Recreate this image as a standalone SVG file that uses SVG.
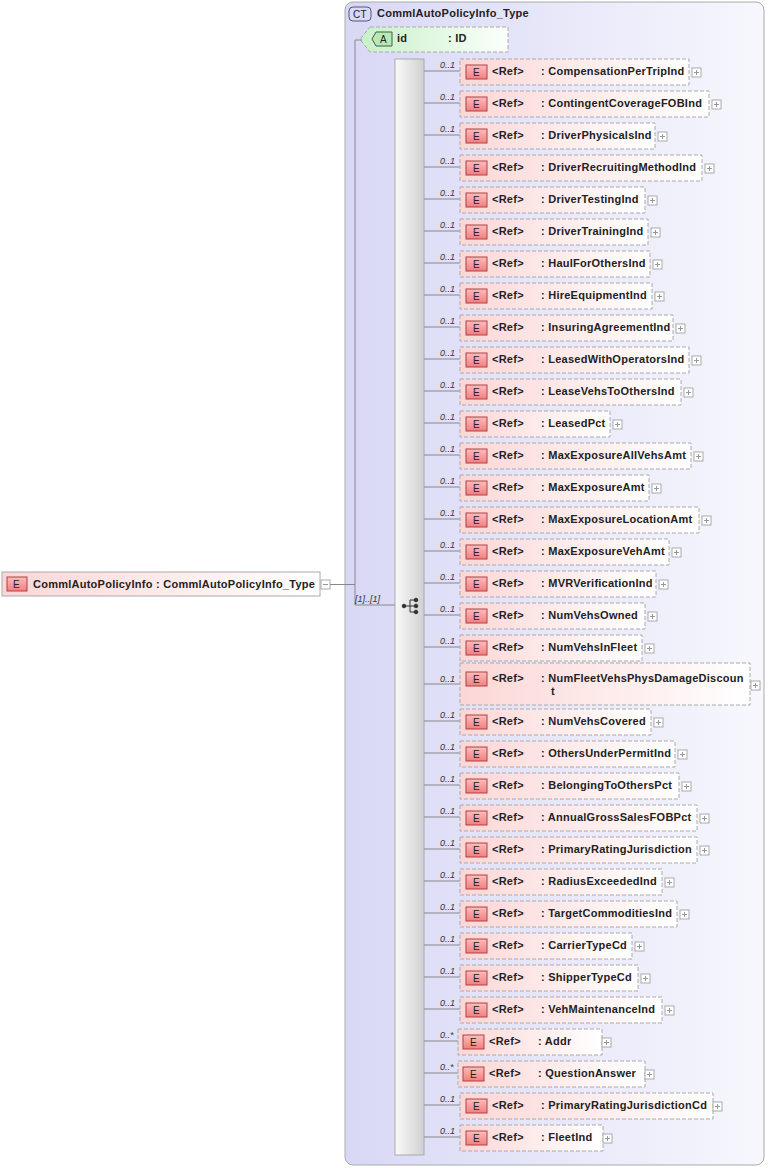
<svg xmlns="http://www.w3.org/2000/svg" width="768" height="1168" viewBox="0 0 768 1168">
<style>
text{font-family:"Liberation Sans",Arial,sans-serif;font-size:11px;font-weight:bold;fill:#222;letter-spacing:0.25px}
.m{font-weight:normal;font-style:italic;font-size:9px;fill:#333;letter-spacing:0}
.eb{fill:url(#eg);stroke:#aaa;stroke-dasharray:4,2}
.ic{fill:url(#ig);stroke:#b04040}
.it{font-weight:normal;font-size:10px;fill:#222}
.c{stroke:#888;fill:none}
.p{fill:#fff;stroke:#aaa}
</style>
<defs>
<linearGradient id="bg" x1="0" y1="0" x2="1" y2="0"><stop offset="0" stop-color="#d8d8f6"/><stop offset="1" stop-color="#f7f7fd"/></linearGradient>
<linearGradient id="eg" x1="0" y1="0" x2="1" y2="0"><stop offset="0" stop-color="#fcd6d6"/><stop offset="1" stop-color="#fff"/></linearGradient>
<linearGradient id="ag" x1="0" y1="0" x2="1" y2="0"><stop offset="0" stop-color="#c8f0c8"/><stop offset="1" stop-color="#fbfffb"/></linearGradient>
<linearGradient id="ig" x1="0" y1="0" x2="0" y2="1"><stop offset="0" stop-color="#fbb"/><stop offset="1" stop-color="#f08080"/></linearGradient>
<linearGradient id="sg" x1="0" y1="0" x2="1" y2="0"><stop offset="0" stop-color="#fafafa"/><stop offset="1" stop-color="#d0d0d0"/></linearGradient>
<g id="plus"><rect class="p" x="0" y="0" width="9" height="9"/><path d="M2 4.5h5M4.5 2v5" stroke="#999"/></g>
</defs>
<g id="ct">
<rect x="345" y="2" width="419" height="1163" rx="8" fill="url(#bg)" stroke="#aaa"/>
<rect x="349" y="7" width="22" height="14" rx="4" fill="#d8d8f8" stroke="#557"/>
<text x="353" y="18" class="it">CT</text>
<text x="377" y="17">CommlAutoPolicyInfo_Type</text>
</g>
<g id="root">
<rect x="2" y="572" width="318" height="24" fill="url(#eg)" stroke="#aaa"/>
<rect class="ic" x="7" y="577" width="20" height="14"/><text class="it" x="13" y="588">E</text>
<text x="33" y="588">CommlAutoPolicyInfo</text><text x="156" y="588">: CommlAutoPolicyInfo_Type</text>
<rect class="p" x="321" y="580" width="9" height="9"/><path d="M323 584.5h5" stroke="#999"/>
</g>
<g id="attr-id">
<path d="M370 27H508V52H370L360 39.5Z" fill="url(#ag)" stroke="#aaa" stroke-dasharray="4,2"/>
<path d="M376 32H392V46H376L372 39Z" fill="#b8e8b8" stroke="#406040"/>
<text class="it" x="380" y="43">A</text>
<text x="397" y="42">id</text><text x="448" y="42">: ID</text>
</g>
<g id="seq">
<rect x="395" y="59" width="29" height="1096" fill="url(#sg)" stroke="#aaa"/>
<g fill="#333" stroke="#333"><circle cx="404" cy="606" r="1.8"/><path d="M404 606h6M410 600v12M410 600h5M410 606h5M410 612h5" fill="none"/><circle cx="416" cy="600" r="1.8"/><circle cx="416" cy="606" r="1.8"/><circle cx="416" cy="612" r="1.8"/></g>
</g>
<g id="connectors">
<path class="c" d="M330 584.5H355M355 40V605M355 40H362M355 605H395"/>
<text class="m" x="355" y="602">[1]..[1]</text>
<path class="c" d="M424 71H460M424 103H460M424 135H460M424 167H460M424 199H460M424 231H460M424 263H460M424 295H460M424 327H460M424 359H460M424 391H460M424 423H460M424 455H460M424 487H460M424 519H460M424 551H460M424 583H460M424 615H460M424 647H460M424 684H460M424 721H460M424 753H460M424 785H460M424 817H460M424 849H460M424 881H460M424 913H460M424 945H460M424 977H460M424 1009H460M424 1041H458M424 1073H458M424 1105H460M424 1137H460"/>
</g>
<g id="e1"><rect class="eb" x="460" y="59" width="229" height="26"/><rect class="ic" x="466" y="65" width="21" height="14"/><text class="it" x="473" y="76">E</text><text x="492" y="75">&lt;Ref&gt;</text><text x="541" y="75">: CompensationPerTripInd</text><use href="#plus" x="692" y="68"/><text class="m" x="440" y="68">0..1</text></g>
<g id="e2"><rect class="eb" x="460" y="91" width="249" height="26"/><rect class="ic" x="466" y="97" width="21" height="14"/><text class="it" x="473" y="108">E</text><text x="492" y="107">&lt;Ref&gt;</text><text x="541" y="107">: ContingentCoverageFOBInd</text><use href="#plus" x="712" y="100"/><text class="m" x="440" y="100">0..1</text></g>
<g id="e3"><rect class="eb" x="460" y="123" width="195" height="26"/><rect class="ic" x="466" y="129" width="21" height="14"/><text class="it" x="473" y="140">E</text><text x="492" y="139">&lt;Ref&gt;</text><text x="541" y="139">: DriverPhysicalsInd</text><use href="#plus" x="658" y="132"/><text class="m" x="440" y="132">0..1</text></g>
<g id="e4"><rect class="eb" x="460" y="155" width="242" height="26"/><rect class="ic" x="466" y="161" width="21" height="14"/><text class="it" x="473" y="172">E</text><text x="492" y="171">&lt;Ref&gt;</text><text x="541" y="171">: DriverRecruitingMethodInd</text><use href="#plus" x="705" y="164"/><text class="m" x="440" y="164">0..1</text></g>
<g id="e5"><rect class="eb" x="460" y="187" width="185" height="26"/><rect class="ic" x="466" y="193" width="21" height="14"/><text class="it" x="473" y="204">E</text><text x="492" y="203">&lt;Ref&gt;</text><text x="541" y="203">: DriverTestingInd</text><use href="#plus" x="648" y="196"/><text class="m" x="440" y="196">0..1</text></g>
<g id="e6"><rect class="eb" x="460" y="219" width="188" height="26"/><rect class="ic" x="466" y="225" width="21" height="14"/><text class="it" x="473" y="236">E</text><text x="492" y="235">&lt;Ref&gt;</text><text x="541" y="235">: DriverTrainingInd</text><use href="#plus" x="651" y="228"/><text class="m" x="440" y="228">0..1</text></g>
<g id="e7"><rect class="eb" x="460" y="251" width="190" height="26"/><rect class="ic" x="466" y="257" width="21" height="14"/><text class="it" x="473" y="268">E</text><text x="492" y="267">&lt;Ref&gt;</text><text x="541" y="267">: HaulForOthersInd</text><use href="#plus" x="653" y="260"/><text class="m" x="440" y="260">0..1</text></g>
<g id="e8"><rect class="eb" x="460" y="283" width="192" height="26"/><rect class="ic" x="466" y="289" width="21" height="14"/><text class="it" x="473" y="300">E</text><text x="492" y="299">&lt;Ref&gt;</text><text x="541" y="299">: HireEquipmentInd</text><use href="#plus" x="655" y="292"/><text class="m" x="440" y="292">0..1</text></g>
<g id="e9"><rect class="eb" x="460" y="315" width="213" height="26"/><rect class="ic" x="466" y="321" width="21" height="14"/><text class="it" x="473" y="332">E</text><text x="492" y="331">&lt;Ref&gt;</text><text x="541" y="331">: InsuringAgreementInd</text><use href="#plus" x="676" y="324"/><text class="m" x="440" y="324">0..1</text></g>
<g id="e10"><rect class="eb" x="460" y="347" width="229" height="26"/><rect class="ic" x="466" y="353" width="21" height="14"/><text class="it" x="473" y="364">E</text><text x="492" y="363">&lt;Ref&gt;</text><text x="541" y="363">: LeasedWithOperatorsInd</text><use href="#plus" x="692" y="356"/><text class="m" x="440" y="356">0..1</text></g>
<g id="e11"><rect class="eb" x="460" y="379" width="221" height="26"/><rect class="ic" x="466" y="385" width="21" height="14"/><text class="it" x="473" y="396">E</text><text x="492" y="395">&lt;Ref&gt;</text><text x="541" y="395">: LeaseVehsToOthersInd</text><use href="#plus" x="684" y="388"/><text class="m" x="440" y="388">0..1</text></g>
<g id="e12"><rect class="eb" x="460" y="411" width="150" height="26"/><rect class="ic" x="466" y="417" width="21" height="14"/><text class="it" x="473" y="428">E</text><text x="492" y="427">&lt;Ref&gt;</text><text x="541" y="427">: LeasedPct</text><use href="#plus" x="613" y="420"/><text class="m" x="440" y="420">0..1</text></g>
<g id="e13"><rect class="eb" x="460" y="443" width="231" height="26"/><rect class="ic" x="466" y="449" width="21" height="14"/><text class="it" x="473" y="460">E</text><text x="492" y="459">&lt;Ref&gt;</text><text x="541" y="459">: MaxExposureAllVehsAmt</text><use href="#plus" x="694" y="452"/><text class="m" x="440" y="452">0..1</text></g>
<g id="e14"><rect class="eb" x="460" y="475" width="189" height="26"/><rect class="ic" x="466" y="481" width="21" height="14"/><text class="it" x="473" y="492">E</text><text x="492" y="491">&lt;Ref&gt;</text><text x="541" y="491">: MaxExposureAmt</text><use href="#plus" x="652" y="484"/><text class="m" x="440" y="484">0..1</text></g>
<g id="e15"><rect class="eb" x="460" y="507" width="239" height="26"/><rect class="ic" x="466" y="513" width="21" height="14"/><text class="it" x="473" y="524">E</text><text x="492" y="523">&lt;Ref&gt;</text><text x="541" y="523">: MaxExposureLocationAmt</text><use href="#plus" x="702" y="516"/><text class="m" x="440" y="516">0..1</text></g>
<g id="e16"><rect class="eb" x="460" y="539" width="209" height="26"/><rect class="ic" x="466" y="545" width="21" height="14"/><text class="it" x="473" y="556">E</text><text x="492" y="555">&lt;Ref&gt;</text><text x="541" y="555">: MaxExposureVehAmt</text><use href="#plus" x="672" y="548"/><text class="m" x="440" y="548">0..1</text></g>
<g id="e17"><rect class="eb" x="460" y="571" width="196" height="26"/><rect class="ic" x="466" y="577" width="21" height="14"/><text class="it" x="473" y="588">E</text><text x="492" y="587">&lt;Ref&gt;</text><text x="541" y="587">: MVRVerificationInd</text><use href="#plus" x="659" y="580"/><text class="m" x="440" y="580">0..1</text></g>
<g id="e18"><rect class="eb" x="460" y="603" width="185" height="26"/><rect class="ic" x="466" y="609" width="21" height="14"/><text class="it" x="473" y="620">E</text><text x="492" y="619">&lt;Ref&gt;</text><text x="541" y="619">: NumVehsOwned</text><use href="#plus" x="648" y="612"/><text class="m" x="440" y="612">0..1</text></g>
<g id="e19"><rect class="eb" x="460" y="635" width="182" height="26"/><rect class="ic" x="466" y="641" width="21" height="14"/><text class="it" x="473" y="652">E</text><text x="492" y="651">&lt;Ref&gt;</text><text x="541" y="651">: NumVehsInFleet</text><use href="#plus" x="645" y="644"/><text class="m" x="440" y="644">0..1</text></g>
<g id="e20"><rect class="eb" x="460" y="663" width="290" height="42"/><rect class="ic" x="466" y="672" width="21" height="14"/><text class="it" x="473" y="683">E</text><text x="492" y="682">&lt;Ref&gt;</text><text x="541" y="682">: NumFleetVehsPhysDamageDiscoun</text><text x="551" y="695">t</text><use href="#plus" x="751" y="681"/><text class="m" x="440" y="682">0..1</text></g>
<g id="e21"><rect class="eb" x="460" y="709" width="191" height="26"/><rect class="ic" x="466" y="715" width="21" height="14"/><text class="it" x="473" y="726">E</text><text x="492" y="725">&lt;Ref&gt;</text><text x="541" y="725">: NumVehsCovered</text><use href="#plus" x="654" y="718"/><text class="m" x="440" y="718">0..1</text></g>
<g id="e22"><rect class="eb" x="460" y="741" width="215" height="26"/><rect class="ic" x="466" y="747" width="21" height="14"/><text class="it" x="473" y="758">E</text><text x="492" y="757">&lt;Ref&gt;</text><text x="541" y="757">: OthersUnderPermitInd</text><use href="#plus" x="678" y="750"/><text class="m" x="440" y="750">0..1</text></g>
<g id="e23"><rect class="eb" x="460" y="773" width="219" height="26"/><rect class="ic" x="466" y="779" width="21" height="14"/><text class="it" x="473" y="790">E</text><text x="492" y="789">&lt;Ref&gt;</text><text x="541" y="789">: BelongingToOthersPct</text><use href="#plus" x="682" y="782"/><text class="m" x="440" y="782">0..1</text></g>
<g id="e24"><rect class="eb" x="460" y="805" width="237" height="26"/><rect class="ic" x="466" y="811" width="21" height="14"/><text class="it" x="473" y="822">E</text><text x="492" y="821">&lt;Ref&gt;</text><text x="541" y="821">: AnnualGrossSalesFOBPct</text><use href="#plus" x="700" y="814"/><text class="m" x="440" y="814">0..1</text></g>
<g id="e25"><rect class="eb" x="460" y="837" width="237" height="26"/><rect class="ic" x="466" y="843" width="21" height="14"/><text class="it" x="473" y="854">E</text><text x="492" y="853">&lt;Ref&gt;</text><text x="541" y="853">: PrimaryRatingJurisdiction</text><use href="#plus" x="700" y="846"/><text class="m" x="440" y="846">0..1</text></g>
<g id="e26"><rect class="eb" x="460" y="869" width="202" height="26"/><rect class="ic" x="466" y="875" width="21" height="14"/><text class="it" x="473" y="886">E</text><text x="492" y="885">&lt;Ref&gt;</text><text x="541" y="885">: RadiusExceededInd</text><use href="#plus" x="665" y="878"/><text class="m" x="440" y="878">0..1</text></g>
<g id="e27"><rect class="eb" x="460" y="901" width="217" height="26"/><rect class="ic" x="466" y="907" width="21" height="14"/><text class="it" x="473" y="918">E</text><text x="492" y="917">&lt;Ref&gt;</text><text x="541" y="917">: TargetCommoditiesInd</text><use href="#plus" x="680" y="910"/><text class="m" x="440" y="910">0..1</text></g>
<g id="e28"><rect class="eb" x="460" y="933" width="172" height="26"/><rect class="ic" x="466" y="939" width="21" height="14"/><text class="it" x="473" y="950">E</text><text x="492" y="949">&lt;Ref&gt;</text><text x="541" y="949">: CarrierTypeCd</text><use href="#plus" x="635" y="942"/><text class="m" x="440" y="942">0..1</text></g>
<g id="e29"><rect class="eb" x="460" y="965" width="178" height="26"/><rect class="ic" x="466" y="971" width="21" height="14"/><text class="it" x="473" y="982">E</text><text x="492" y="981">&lt;Ref&gt;</text><text x="541" y="981">: ShipperTypeCd</text><use href="#plus" x="641" y="974"/><text class="m" x="440" y="974">0..1</text></g>
<g id="e30"><rect class="eb" x="460" y="997" width="202" height="26"/><rect class="ic" x="466" y="1003" width="21" height="14"/><text class="it" x="473" y="1014">E</text><text x="492" y="1013">&lt;Ref&gt;</text><text x="541" y="1013">: VehMaintenanceInd</text><use href="#plus" x="665" y="1006"/><text class="m" x="440" y="1006">0..1</text></g>
<g id="e31"><rect class="eb" x="458" y="1029" width="144" height="26"/><rect class="ic" x="463" y="1035" width="21" height="14"/><text class="it" x="470" y="1046">E</text><text x="489" y="1045">&lt;Ref&gt;</text><text x="538" y="1045">: Addr</text><use href="#plus" x="602" y="1038"/><text class="m" x="440" y="1038">0..*</text></g>
<g id="e32"><rect class="eb" x="458" y="1061" width="187" height="26"/><rect class="ic" x="463" y="1067" width="21" height="14"/><text class="it" x="470" y="1078">E</text><text x="489" y="1077">&lt;Ref&gt;</text><text x="538" y="1077">: QuestionAnswer</text><use href="#plus" x="645" y="1070"/><text class="m" x="440" y="1070">0..*</text></g>
<g id="e33"><rect class="eb" x="460" y="1093" width="253" height="26"/><rect class="ic" x="466" y="1099" width="21" height="14"/><text class="it" x="473" y="1110">E</text><text x="492" y="1109">&lt;Ref&gt;</text><text x="541" y="1109">: PrimaryRatingJurisdictionCd</text><use href="#plus" x="713" y="1102"/><text class="m" x="440" y="1102">0..1</text></g>
<g id="e34"><rect class="eb" x="460" y="1125" width="143" height="26"/><rect class="ic" x="466" y="1131" width="21" height="14"/><text class="it" x="473" y="1142">E</text><text x="492" y="1141">&lt;Ref&gt;</text><text x="541" y="1141">: FleetInd</text><use href="#plus" x="603" y="1134"/><text class="m" x="440" y="1134">0..1</text></g>
</svg>
